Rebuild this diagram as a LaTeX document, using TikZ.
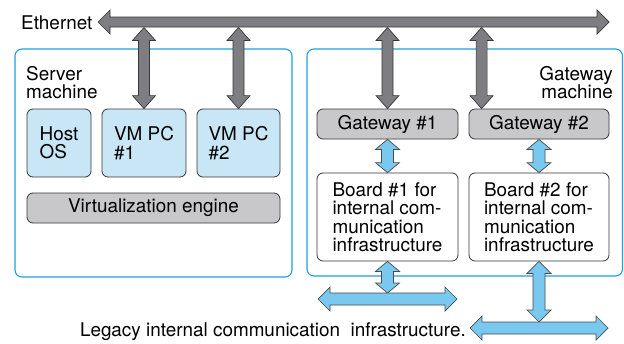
\documentclass[tikz,border=0pt]{standalone}
\usepackage{fontspec}
\setmainfont{TeX Gyre Heros}
\usetikzlibrary{calc}
\definecolor{cont}{RGB}{30,160,220}
\definecolor{lb}{RGB}{200,230,246}
\definecolor{gbox}{RGB}{200,200,202}
\definecolor{bdr}{RGB}{55,55,55}
\definecolor{garr}{RGB}{125,125,130}
\definecolor{barr}{RGB}{120,200,240}
\newcommand\lbl{\fontsize{18.9}{18.5}\selectfont}
% vertical double arrow: style, top, bottom, half shaft, half head, head length
\newcommand\varr[6]{%
 \draw[#1] let \p1=#2, \p2=#3 in
 (\x1,\y1) -- (\x1+#5,\y1-#6) -- (\x1+#4,\y1-#6) -- (\x1+#4,\y2+#6) -- (\x1+#5,\y2+#6) -- (\x1,\y2)
 -- (\x1-#5,\y2+#6) -- (\x1-#4,\y2+#6) -- (\x1-#4,\y1-#6) -- (\x1-#5,\y1-#6) -- cycle;}
% horizontal double arrow: style, left, right, half shaft, half head, head length
\newcommand\harr[6]{%
 \draw[#1] let \p1=#2, \p2=#3 in
 (\x1,\y1) -- (\x1+#6,\y1+#5) -- (\x1+#6,\y1+#4) -- (\x2-#6,\y1+#4) -- (\x2-#6,\y1+#5) -- (\x2,\y1)
 -- (\x2-#6,\y1-#5) -- (\x2-#6,\y1-#4) -- (\x1+#6,\y1-#4) -- (\x1+#6,\y1-#5) -- cycle;}
\tikzset{
 every node/.style={font=\lbl, text=black},
 container/.style={draw=cont, line width=1.1pt, rounded corners=7pt},
 vmbox/.style={draw=bdr, fill=lb, line width=0.8pt, rounded corners=6pt, align=left, inner sep=0pt},
 graybox/.style={draw=bdr, fill=gbox, line width=0.8pt, rounded corners=6pt, align=center, inner sep=0pt},
 whitebox/.style={draw=bdr, fill=white, line width=0.8pt, rounded corners=6pt, align=left, inner sep=0pt},
 grayarrow/.style={draw=bdr, fill=garr, line width=0.7pt, line join=miter},
 bluearrow/.style={draw=bdr!90, fill=barr, line width=0.7pt, line join=miter},
 plain/.style={inner sep=0pt}
}
\begin{document}
\begin{tikzpicture}[x=1pt,y=-1pt]
\useasboundingbox (0,0) rectangle (624,343);
% containers
\draw[container] (15,49) rectangle (292,277);
\draw[container] (307,49) rectangle (622.5,276);
% labels
\node[plain, anchor=base west] (eth) at (21,29.5) {Ethernet};
\node[plain, anchor=north west, align=left] (srv) at (26,66) {Server\\machine};
\node[plain, anchor=north east, align=right] (gwm) at (613,66) {Gateway\\machine};
\node[plain, anchor=base east] (leg) at (466,336) {Legacy internal communication\ \ infrastructure.};
% server boxes
\node[vmbox, minimum width=64pt, minimum height=68pt] (host) at (59,143) {Host\\OS};
\node[vmbox, minimum width=84pt, minimum height=68pt] (vm1) at (144,143) {VM PC\\\#1};
\node[vmbox, minimum width=83pt, minimum height=68pt] (vm2) at (238.5,143) {VM PC\\\#2};
\node[graybox, minimum width=253pt, minimum height=30pt] (virt) at (153.5,208) {Virtualization engine};
% gateway boxes
\node[graybox, minimum width=141pt, minimum height=30pt] (gw1) at (387.5,124) {Gateway \#1};
\node[graybox, minimum width=140pt, minimum height=30pt] (gw2) at (539,124) {Gateway \#2};
\node[whitebox, minimum width=141pt, minimum height=88pt] (b1) at (387.5,217) {Board \#1 for\\internal com-\\munication\\infrastructure};
\node[whitebox, minimum width=140pt, minimum height=88pt] (b2) at (539,217) {Board \#2 for\\internal com-\\munication\\infrastructure};
% coordinates
\coordinate (ethL) at (98,22);
\coordinate (ethR) at (609,22);
\coordinate (ethB) at (0,27.5);
\coordinate (g2in) at ($(gw2.north west)+(13,0)$);
\coordinate (l1L) at (318,299);
\coordinate (l1R) at (457,299);
\coordinate (l2L) at (470,328);
\coordinate (l2R) at (608,328);
% Ethernet bus
\harr{grayarrow}{(ethL)}{(ethR)}{5pt}{12pt}{12pt}
% gray vertical arrows
\varr{grayarrow}{(vm1.north |- ethB)}{(vm1.north)}{5.5pt}{11.5pt}{13pt}
\varr{grayarrow}{(vm2.north |- ethB)}{(vm2.north)}{5.5pt}{11.5pt}{13pt}
\varr{grayarrow}{(gw1.north |- ethB)}{(gw1.north)}{5.5pt}{11.5pt}{13pt}
\varr{grayarrow}{(g2in |- ethB)}{(g2in)}{5.5pt}{11.5pt}{13pt}
% blue arrows
\varr{bluearrow}{(gw1.south)}{(b1.north)}{6pt}{12pt}{10pt}
\varr{bluearrow}{(gw2.south)}{(b2.north)}{6pt}{12pt}{10pt}
\varr{bluearrow}{(b1.south)}{(b1.south |- 0,293)}{6pt}{12pt}{10pt}
\varr{bluearrow}{(b2.south)}{(b2.south |- 0,322)}{6pt}{12pt}{12pt}
\harr{bluearrow}{(l1L)}{(l1R)}{6pt}{12pt}{12pt}
\harr{bluearrow}{(l2L)}{(l2R)}{6pt}{12pt}{12pt}
\end{tikzpicture}
\end{document}
